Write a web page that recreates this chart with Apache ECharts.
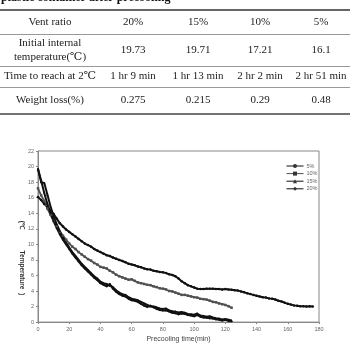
<!DOCTYPE html>
<html>
<head>
<meta charset="utf-8">
<script src="https://cdn.jsdelivr.net/npm/echarts@6/dist/echarts.min.js"></script>
<style>
  html, body { margin: 0; padding: 0; background: #fff; }
  #container { width: 350px; height: 349px; }
</style>
</head>
<body>
<div id="container"></div>
<script>
var dom     = document.getElementById("container");
var myChart = echarts.init(dom);

// table data
var tableTitle  = 'plastic container after precooling';
var ventRatios  = ['20%', '15%', '10%', '5%'];
var initTemps   = ['19.73', '19.71', '17.21', '16.1'];
var reachTimes  = ['1 hr 9 min', '1 hr 13 min', '2 hr 2 min', '2 hr 51 min'];
var weightLoss  = ['0.275', '0.215', '0.29', '0.48'];

// chart data (every 2 min)
var seriesNames = ['5%', '10%', '15%', '20%'];
var temp5 = [16.1, 15.7, 15.2, 14.8, 14.3, 13.9, 13.3, 12.7, 12.3, 11.9,
             11.6, 11.3, 11.0, 10.7, 10.4, 10.1, 9.9, 9.7, 9.4, 9.2,
             9.0, 8.8, 8.6, 8.5, 8.3, 8.15, 8.0, 7.85, 7.7, 7.5,
             7.4, 7.3, 7.15, 7.05, 6.9, 6.8, 6.75, 6.6, 6.55, 6.45,
             6.4, 6.3, 6.15, 6.05, 5.9, 5.6, 5.25, 5.0, 4.75, 4.6,
             4.45, 4.3, 4.25, 4.25, 4.3, 4.3, 4.3, 4.25, 4.25, 4.2,
             4.25, 4.2, 4.15, 4.1, 4.05, 3.95, 3.85, 3.7, 3.6, 3.5,
             3.4, 3.3, 3.2, 3.15, 3.05, 3.0, 2.9, 2.75, 2.65, 2.5,
             2.35, 2.25, 2.15, 2.1, 2.05, 2.05, 2.0, 2.05, 2.0];
var temp10 = [17.2, 16.3, 15.6, 14.6, 13.8, 13.0, 12.3, 11.6, 11.1, 10.6,
              10.1, 9.7, 9.4, 9.0, 8.7, 8.4, 8.1, 7.9, 7.6, 7.4,
              7.1, 7.0, 6.9, 6.6, 6.4, 6.1, 5.9, 5.75, 5.6, 5.45,
              5.5, 5.3, 5.1, 5.0, 4.9, 4.8, 4.75, 4.6, 4.5, 4.35,
              4.3, 4.2, 4.0, 3.95, 3.8, 3.65, 3.5, 3.5, 3.4, 3.3,
              3.2, 3.15, 3.0, 2.95, 2.9, 2.75, 2.6, 2.55, 2.4, 2.3,
              2.2, 2.05, 1.85];
var temp15 = [19.7, 18.0, 17.9, 16.4, 14.9, 13.6, 12.6, 11.7, 10.9, 10.2,
              9.6, 9.0, 8.5, 8.0, 7.5, 7.1, 6.7, 6.3, 5.9, 5.6,
              5.2, 5.0, 4.9, 4.7, 4.5, 4.1, 3.8, 3.6, 3.5, 3.2,
              3.0, 2.9, 2.8, 2.6, 2.4, 2.2, 2.05, 2.0, 1.9, 1.75,
              1.7, 1.75, 1.5, 1.4, 1.35, 1.25, 1.3, 1.2, 1.05, 1.0,
              0.95, 1.1, 0.85, 0.8, 0.7, 0.75, 0.6, 0.5, 0.45, 0.35,
              0.4, 0.3, 0.2];
var temp20 = [19.7, 18.2, 16.6, 15.2, 14.0, 13.0, 12.1, 11.3, 10.6, 10.0,
              9.4, 8.8, 8.3, 7.8, 7.3, 6.9, 6.5, 6.1, 5.7, 5.4,
              5.0, 4.8, 4.6, 4.9, 4.3, 3.9, 3.6, 3.4, 3.3, 3.0,
              2.8, 2.75, 2.6, 2.35, 2.1, 1.95, 2.1, 1.9, 1.7, 1.55,
              1.5, 1.5, 1.35, 1.2, 1.15, 1.0, 1.1, 1.05, 0.9, 0.85,
              0.75, 0.9, 0.7, 0.6, 0.55, 0.5, 0.45, 0.35, 0.3, 0.2,
              0.3, 0.15, 0.1];
var timeStep = 2;

function toPairs(values) {
    var out = [];
    for (var i = 0; i < values.length; i++) {
        out.push([i * timeStep, values[i]]);
    }
    return out;
}

// table drawn with graphic elements
var colX   = [50, 133, 198, 260, 321];
var serif  = '"Liberation Serif", "DejaVu Serif", serif';
var tableEls = [];

function cell(x, y, text) {
    tableEls.push({
        type: 'text', x: x, y: y, silent: true,
        style: { text: text, fill: '#222', font: '11px ' + serif, align: 'center', verticalAlign: 'middle' }
    });
}
function rule(y, w, c) {
    tableEls.push({
        type: 'line', silent: true,
        shape: { x1: 0, y1: y, x2: 350, y2: y },
        style: { stroke: c, lineWidth: w }
    });
}

tableEls.push({
    type: 'text', x: 1, y: 4, silent: true,
    style: { text: tableTitle, fill: '#111', font: 'bold 12px ' + serif, align: 'left', verticalAlign: 'bottom' }
});
rule(10, 1.6, '#333');
rule(34.5, 1, '#999');
rule(66.5, 1, '#999');
rule(87.5, 1, '#999');
rule(114, 1.6, '#444');

cell(colX[0], 22, 'Vent ratio');
cell(colX[0], 43.5, 'Initial internal');
cell(colX[0], 57, 'temperature(℃)');
cell(colX[0], 76.5, 'Time to reach at 2℃');
cell(colX[0], 100.5, 'Weight loss(%)');
for (var i = 0; i < 4; i++) {
    cell(colX[i + 1], 22, ventRatios[i]);
    cell(colX[i + 1], 50.5, initTemps[i]);
    cell(colX[i + 1], 76.5, reachTimes[i]);
    cell(colX[i + 1], 100.5, weightLoss[i]);
}

// rotated y axis title, as in the scan
tableEls.push({
    type: 'text', x: 22, y: 258, rotation: -Math.PI / 2, silent: true,
    style: { text: '(℃            Temperature  )', fill: '#333', font: 'bold 6.5px Arial, "Liberation Sans", sans-serif', align: 'center', verticalAlign: 'middle' }
});

var lineColors = ['#111', '#505050', '#111', '#111'];
var lineWidths = [2, 1.8, 2, 2];
var symbols    = ['circle', 'rect', 'triangle', 'diamond'];
var allTemps   = [temp5, temp10, temp15, temp20];

var series = [];
for (var s = 0; s < 4; s++) {
    series.push({
        name: seriesNames[s],
        type: 'line',
        data: toPairs(allTemps[s]),
        symbol: symbols[s],
        symbolSize: 2.5,
        showSymbol: true,
        color: lineColors[s],
        lineStyle: { width: lineWidths[s], color: lineColors[s] },
        itemStyle: { color: lineColors[s] }
    });
}

var option = {
    animation: false,
    backgroundColor: '#fff',
    textStyle: { fontFamily: 'Arial, "Liberation Sans", sans-serif' },
    graphic: tableEls,
    legend: {
        orient: 'vertical',
        left: 281,
        top: 158,
        itemWidth: 17,
        itemHeight: 5,
        itemGap: 1.6,
        data: seriesNames,
        lineStyle: { width: 1 },
        itemStyle: { color: '#333' },
        textStyle: { fontSize: 5.5, color: '#666', padding: [0, 0, 0, -2] }
    },
    grid: {
        left: 38,
        right: 31,
        top: 151,
        bottom: 20,
        show: true,
        borderColor: '#888',
        borderWidth: 1
    },
    xAxis: {
        type: 'value',
        min: 0,
        max: 180,
        interval: 20,
        name: 'Precooling time(min)',
        nameLocation: 'middle',
        nameGap: 13,
        nameTextStyle: { fontSize: 7, color: '#444' },
        axisLine: { lineStyle: { color: '#888' } },
        axisTick: { length: 2, lineStyle: { color: '#888' } },
        axisLabel: { fontSize: 5.5, color: '#666', margin: 4 },
        splitLine: { show: false }
    },
    yAxis: {
        type: 'value',
        min: 0,
        max: 22,
        interval: 2,
        axisLine: { show: true, lineStyle: { color: '#888' } },
        axisTick: { show: true, length: 2, lineStyle: { color: '#888' } },
        axisLabel: { fontSize: 5.5, color: '#666', margin: 4 },
        splitLine: { show: false }
    },
    series: series
};

myChart.setOption(option);
</script>
</body>
</html>
